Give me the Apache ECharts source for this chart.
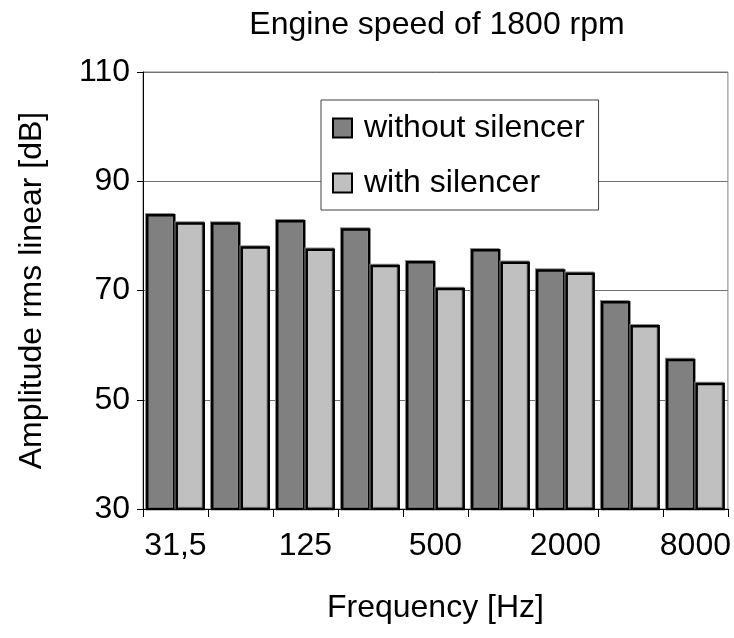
<!DOCTYPE html>
<html>
<head>
<meta charset="utf-8">
<script src="https://cdn.jsdelivr.net/npm/echarts@6/dist/echarts.min.js"></script>
<style>html,body{margin:0;padding:0;background:#fff}#c{width:734px;height:638px}</style>
</head>
<body>
<div id="c"></div>
<script>
const categories = ['31,5', '63', '125', '250', '500', '1000', '2000', '4000', '8000'];
const withoutSilencer = [84.0, 82.5, 82.9, 81.4, 75.4, 77.6, 73.9, 68.1, 57.5];
const withSilencer = [82.5, 78.1, 77.7, 74.7, 70.5, 75.3, 73.3, 63.7, 53.1];
const yTicks = [30, 50, 70, 90, 110];

const FONT = "'Liberation Sans', Arial, sans-serif";
const FS = 32;
const chart = echarts.init(document.getElementById('c'), null, {renderer: 'canvas'});
const barStyle = (c) => ({
  color: c, borderColor: '#000', borderWidth: 2.5,
  shadowColor: '#8c8c8c', shadowOffsetX: -1, shadowOffsetY: -1, shadowBlur: 0
});
chart.setOption({
  animation: false,
  backgroundColor: '#fff',
  textStyle: {fontFamily: FONT, color: '#000'},
  title: {
    text: 'Engine speed of 1800 rpm',
    left: 437, top: 9, textAlign: 'center', padding: 0,
    textStyle: {fontFamily: FONT, fontSize: FS, fontWeight: 'normal', color: '#000'}
  },
  grid: {left: 143, right: 6, top: 72, bottom: 129, show: true, borderColor: '#808080', borderWidth: 1, backgroundColor: 'transparent'},
  legend: {
    orient: 'vertical', left: 321, top: 100,
    padding: [12, 14, 11, 11], itemGap: 23,
    backgroundColor: '#fff', borderColor: '#404040', borderWidth: 1,
    itemWidth: 19, itemHeight: 19,
    icon: 'rect',
    itemStyle: {borderColor: '#000', borderWidth: 2, shadowColor: 'transparent'},
    textStyle: {fontFamily: FONT, fontSize: FS, color: '#000', padding: [0, 0, 0, 7]},
    data: ['without silencer', 'with silencer']
  },
  xAxis: {
    type: 'category', data: categories,
    name: 'Frequency [Hz]', nameLocation: 'middle', nameGap: 83,
    nameTextStyle: {fontFamily: FONT, fontSize: FS, color: '#000'},
    axisLine: {lineStyle: {color: '#000', width: 1}},
    axisTick: {show: true, interval: 0, length: 8, lineStyle: {color: '#000'}},
    axisLabel: {interval: 1, margin: 21, fontFamily: FONT, fontSize: FS, color: '#000'},
    splitLine: {show: false}
  },
  yAxis: {
    type: 'value', min: yTicks[0], max: yTicks[yTicks.length - 1], interval: 20,
    name: 'Amplitude rms linear [dB]', nameLocation: 'middle', nameGap: 95,
    nameTextStyle: {fontFamily: FONT, fontSize: FS, color: '#000'},
    axisLine: {show: true, lineStyle: {color: '#000', width: 1}},
    axisTick: {show: true, length: 6, lineStyle: {color: '#000'}},
    axisLabel: {margin: 13, fontFamily: FONT, fontSize: FS, color: '#000'},
    splitLine: {show: true, lineStyle: {color: '#707070', width: 1}}
  },
  series: [
    {name: 'without silencer', type: 'bar', data: withoutSilencer, barWidth: 29.5, barGap: '0%', itemStyle: barStyle('#808080')},
    {name: 'with silencer', type: 'bar', data: withSilencer, barWidth: 29.5, barGap: '0%', itemStyle: barStyle('#c0c0c0')}
  ]
});
</script>
</body>
</html>
